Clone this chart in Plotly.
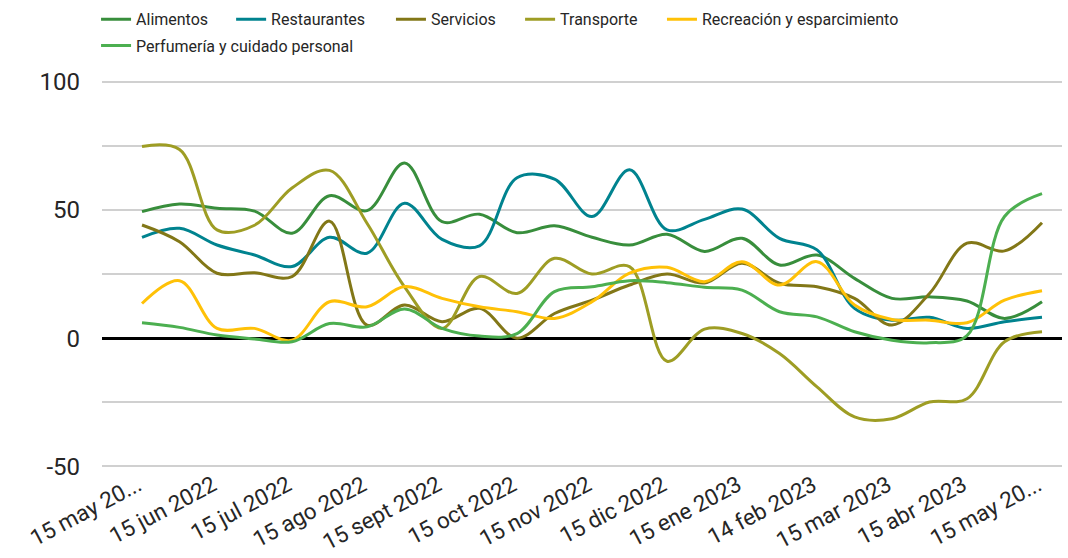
import plotly.graph_objects as go

tick_labels = ["15 may 20...", "15 jun 2022", "15 jul 2022", "15 ago 2022", "15 sept 2022",
               "15 oct 2022", "15 nov 2022", "15 dic 2022", "15 ene 2023", "14 feb 2023",
               "15 mar 2023", "15 abr 2023", "15 may 20..."]
n_points = 25
x_idx = list(range(n_points))

alimentos = [49.3, 52.3, 50.6, 49.5, 40.9, 55.5, 49.7, 68.3, 45.4, 48.3, 41.1, 43.8, 39.3,
             36.3, 40.5, 33.8, 38.9, 28.5, 32.4, 23.3, 15.5, 16.1, 14.5, 7.7, 14.2]
restaurantes = [39.3, 42.8, 36.3, 32.4, 27.9, 39.3, 33.1, 52.6, 38.5, 36.0, 62.5, 62.0, 47.4,
                65.6, 42.2, 46.3, 50.3, 38.9, 34.4, 11.6, 7.0, 8.1, 3.8, 6.4, 8.1]
servicios = [44.1, 37.6, 25.3, 25.5, 24.0, 45.6, 5.1, 12.9, 6.4, 11.6, 0.0, 9.6, 14.8,
             20.7, 25.0, 21.5, 29.2, 21.4, 20.0, 15.5, 5.1, 17.4, 37.0, 34.0, 45.0]
transporte = [74.7, 73.5, 42.2, 44.0, 58.5, 65.4, 44.8, 20.0, 3.8, 24.0, 17.4, 31.1, 25.0,
              27.9, -9.0, 3.5, 1.8, -6.0, -19.0, -30.7, -31.4, -24.9, -23.6, -1.4, 2.5]
recreacion = [13.5, 22.4, 3.8, 3.8, -0.8, 14.2, 12.2, 20.1, 15.5, 12.2, 10.3, 7.7, 14.2,
              25.3, 27.6, 22.0, 29.8, 20.7, 29.8, 12.9, 7.3, 7.0, 6.0, 14.8, 18.5]
perfumeria = [6.0, 4.2, 1.2, -0.3, -1.4, 5.7, 4.4, 11.4, 3.8, 0.8, 1.8, 18.1, 20.0,
              22.4, 21.6, 19.8, 18.7, 10.3, 8.3, 2.5, -0.8, -1.8, 1.0, 47.4, 56.3]

series_names = ["Alimentos", "Restaurantes", "Servicios", "Transporte",
                "Recreación y esparcimiento", "Perfumería y cuidado personal"]
series_values = [alimentos, restaurantes, servicios, transporte, recreacion, perfumeria]
series_colors = ["#388e3c", "#00838f", "#827717", "#9e9d24", "#ffc107", "#4caf50"]

# one legend box per entry, to reproduce the reference legend layout
legend_ids = ["legend", "legend2", "legend3", "legend4", "legend5", "legend6"]
legend_x = [-0.0062, 0.1345, 0.3010, 0.4355, 0.5833, -0.0062]
legend_y = [1.1530, 1.1530, 1.1530, 1.1530, 1.1530, 1.0859]

fig = go.Figure()
for name, vals, color, lid in zip(series_names, series_values, series_colors, legend_ids):
    fig.add_trace(go.Scatter(
        x=x_idx, y=vals, name=name, mode="lines",
        line=dict(color=color, width=3, shape="spline", smoothing=1.0),
        legend=lid,
    ))

font_family = "Roboto, Arial, sans-serif"
txt_color = "#262626"
legend_layout = {}
for lid, lx, ly in zip(legend_ids, legend_x, legend_y):
    legend_layout[lid] = dict(orientation="h", xanchor="left", yanchor="middle",
                              x=lx, y=ly,
                              font=dict(size=16, family=font_family, color=txt_color),
                              itemwidth=30, bgcolor="rgba(0,0,0,0)")

fig.update_layout(
    width=1068, height=558,
    paper_bgcolor="white", plot_bgcolor="white",
    margin=dict(l=102, r=6, t=79.44, b=89.44, autoexpand=False),
    font=dict(family=font_family, color=txt_color),
    showlegend=True,
    xaxis=dict(
        range=[-1.067, 24.533],
        tickmode="array",
        tickvals=[i * 2 for i in range(len(tick_labels))],
        ticktext=tick_labels,
        tickangle=-28,
        ticklabelshift=-4,
        ticklabelstandoff=-2,
        tickfont=dict(size=22.5, family=font_family, color=txt_color),
        showgrid=False, zeroline=False, showline=False, ticks="",
        automargin=False,
    ),
    yaxis=dict(
        range=[-51, 101],
        tickmode="array",
        tickvals=[-50, -25, 0, 25, 50, 75, 100],
        ticktext=["-50", "", "0", "", "50", "", "100"],
        tickfont=dict(size=24, family=font_family, color=txt_color),
        ticklabelstandoff=21,
        showgrid=True, gridcolor="#d0d0d0", gridwidth=2,
        zeroline=True, zerolinecolor="#000000", zerolinewidth=3,
        showline=False, ticks="", ticklen=0,
        automargin=False,
    ),
    **legend_layout,
)

fig.write_html("out.html", config={"displayModeBar": False},
               post_script="document.body.style.margin='0px';")
